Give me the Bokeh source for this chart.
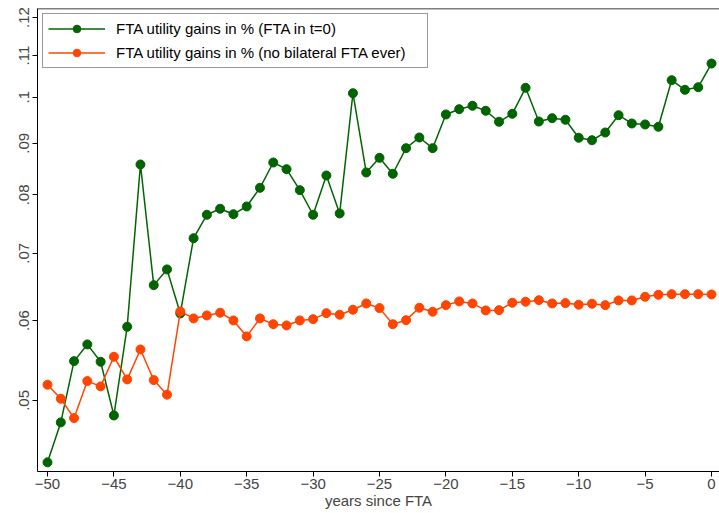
from bokeh.plotting import figure
from bokeh.models import FixedTicker, CustomJSTickFormatter, Range1d, Span, Legend, LegendItem
from bokeh.embed import file_html
from bokeh.resources import INLINE

years = list(range(-50, 1))

fta_t0 = [0.04340, 0.04755, 0.05470, 0.05683, 0.05462, 0.04831, 0.05917, 0.08575, 0.06508, 0.06746,
          0.06100, 0.07245, 0.07644, 0.07750, 0.07654, 0.07790, 0.08130, 0.08614, 0.08484, 0.08086,
          0.07644, 0.08362, 0.07667, 0.10093, 0.08420, 0.08707, 0.08395, 0.08901, 0.09121, 0.08901,
          0.09614, 0.09731, 0.09807, 0.09696, 0.09455, 0.09629, 0.10218, 0.09461, 0.09533, 0.09498,
          0.09115, 0.09065, 0.09226, 0.09598, 0.09418, 0.09397, 0.09347, 0.10398, 0.10172, 0.10232,
          0.10802]

no_fta = [0.05183, 0.05019, 0.04802, 0.05226, 0.05163, 0.05525, 0.05246, 0.05618, 0.05238, 0.05066,
          0.06128, 0.06031, 0.06072, 0.06110, 0.06003, 0.05788, 0.06031, 0.05952, 0.05935, 0.06003,
          0.06021, 0.06104, 0.06082, 0.06152, 0.06241, 0.06175, 0.05952, 0.06007, 0.06180, 0.06124,
          0.06217, 0.06270, 0.06241, 0.06142, 0.06146, 0.06251, 0.06266, 0.06288, 0.06241, 0.06246,
          0.06223, 0.06237, 0.06217, 0.06284, 0.06284, 0.06337, 0.06366, 0.06375, 0.06375, 0.06375,
          0.06371]

x_ticks = [-50, -45, -40, -35, -30, -25, -20, -15, -10, -5, 0]
y_ticks = [0.05, 0.06, 0.07, 0.08, 0.09, 0.10, 0.11, 0.12]

label_t0 = "FTA utility gains in % (FTA in t=0)"
label_no = "FTA utility gains in % (no bilateral FTA ever)"

GREEN = "#006400"
ORANGE = "#FF4500"
FONT = "Liberation Sans"

y_lo, y_hi = 0.0425, 0.1225

p = figure(width=719, height=513, output_backend="svg", toolbar_location=None,
           y_axis_type="log",
           x_range=Range1d(-50.753, 0.602), y_range=Range1d(y_lo, y_hi),
           min_border_left=37, min_border_right=0, min_border_top=8, min_border_bottom=42)

p.outline_line_color = None
p.xgrid.visible = False
p.ygrid.visible = False
p.background_fill_color = "white"
p.border_fill_color = "white"

top = Span(location=y_hi, dimension="width", line_color="black", line_width=1.5)
p.add_layout(top)

l1 = p.line(years, fta_t0, line_color=GREEN, line_width=1.5)
s1 = p.scatter(years, fta_t0, size=9, fill_color=GREEN, line_color=GREEN)
l2 = p.line(years, no_fta, line_color=ORANGE, line_width=1.5)
s2 = p.scatter(years, no_fta, size=9, fill_color=ORANGE, line_color=ORANGE)

legend = Legend(items=[LegendItem(label=label_t0, renderers=[l1, s1]),
                       LegendItem(label=label_no, renderers=[l2, s2])],
                location="top_left")
legend.label_text_font = FONT
legend.label_text_font_size = "15px"
legend.label_text_color = "black"
legend.glyph_width = 57
legend.glyph_height = 19
legend.label_height = 19
legend.label_width = 306
legend.spacing = 5
legend.padding = 5
legend.margin = 5
legend.label_standoff = 11
legend.border_line_color = "#333333"
legend.border_line_width = 1
legend.background_fill_alpha = 1
p.add_layout(legend)

xa = p.xaxis[0]
xa.ticker = FixedTicker(ticks=x_ticks)
xa.formatter = CustomJSTickFormatter(code="return tick < 0 ? '\u2212' + Math.abs(tick) : String(tick);")
xa.axis_label = "years since FTA"
xa.axis_label_text_font = FONT
xa.axis_label_text_font_style = "normal"
xa.axis_label_text_font_size = "15px"
xa.axis_label_standoff = 0
xa.major_label_text_font = FONT
xa.major_label_text_font_size = "15px"
xa.major_label_standoff = 2
xa.major_tick_out = 5
xa.major_tick_in = 0
xa.minor_tick_out = 0
xa.minor_tick_in = 0
xa.axis_line_color = "black"
xa.major_tick_line_color = "black"

ya = p.yaxis[0]
ya.ticker = FixedTicker(ticks=y_ticks)
ya.formatter = CustomJSTickFormatter(code="var s = tick.toFixed(2).replace(/^0/, ''); if (s.endsWith('0')) s = s.slice(0, -1); return s;")
ya.major_label_orientation = "vertical"
ya.major_label_text_font = FONT
ya.major_label_text_font_size = "15px"
ya.major_label_standoff = 3
ya.major_tick_out = 5
ya.major_tick_in = 0
ya.minor_tick_out = 0
ya.minor_tick_in = 0
ya.axis_line_color = "black"
ya.major_tick_line_color = "black"

open("out.html", "w").write(file_html(p, INLINE))
